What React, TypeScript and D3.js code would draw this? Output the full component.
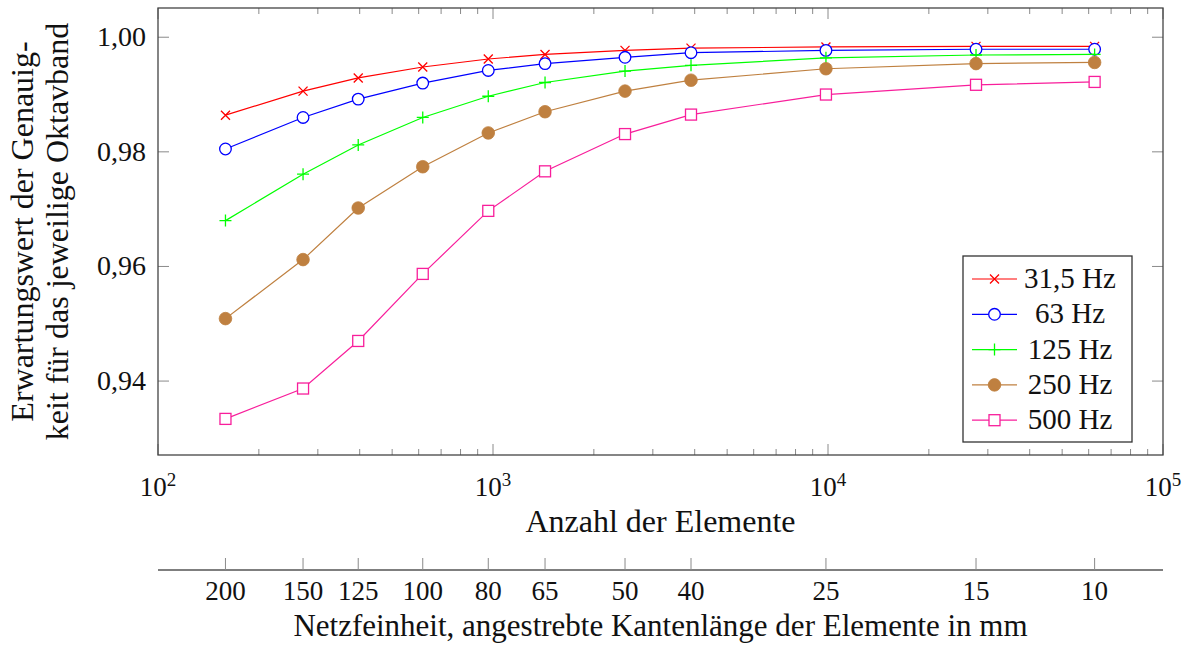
import { useEffect, useRef } from 'react'
import * as d3 from 'd3'

// number of elements (x positions), shared by all series
const elementCounts = [159, 271, 396, 617, 968, 1430, 2478, 3900, 9860, 27660, 62500]
// mesh size labels for the secondary axis (same positions)
const meshSizes = ['200', '150', '125', '100', '80', '65', '50', '40', '25', '15', '10']

const hz31 = [0.9864, 0.9906, 0.9929, 0.9948, 0.9962, 0.997, 0.9977, 0.9981, 0.9983, 0.9984, 0.9984]
const hz63 = [0.9805, 0.986, 0.9892, 0.992, 0.9942, 0.9954, 0.9965, 0.9973, 0.9977, 0.9979, 0.9979]
const hz125 = [0.968, 0.9761, 0.9812, 0.986, 0.9897, 0.9921, 0.9941, 0.9951, 0.9964, 0.9969, 0.997]
const hz250 = [0.9509, 0.9612, 0.9702, 0.9774, 0.9833, 0.987, 0.9906, 0.9925, 0.9945, 0.9954, 0.9956]
const hz500 = [0.9334, 0.9387, 0.947, 0.9587, 0.9697, 0.9766, 0.9831, 0.9865, 0.99, 0.9917, 0.9922]

const seriesNames = ['31,5 Hz', '63 Hz', '125 Hz', '250 Hz', '500 Hz']
const seriesValues = [hz31, hz63, hz125, hz250, hz500]
const seriesColors = ['#ff0000', '#0000ff', '#00ff00', '#bf8040', '#f81e9b']
const seriesMarks = ['x', 'o', '+', '*', 's']

const yTicks = [0.94, 0.96, 0.98, 1.0]
const xDecades = [2, 3, 4, 5]

const FONT = '"Liberation Serif", "DejaVu Serif", serif'

function drawMark(g: any, mark: string, x: number, y: number, color: string) {
    if (mark === 'x') {
        const s = 4.5
        g.append('path')
            .attr('d', `M${x - s},${y - s}L${x + s},${y + s}M${x - s},${y + s}L${x + s},${y - s}`)
            .style('stroke', color).style('stroke-width', 1.3).style('fill', 'none')
    } else if (mark === '+') {
        const s = 6
        g.append('path')
            .attr('d', `M${x - s},${y}L${x + s},${y}M${x},${y - s}L${x},${y + s}`)
            .style('stroke', color).style('stroke-width', 1.3).style('fill', 'none')
    } else if (mark === 'o') {
        g.append('circle').attr('cx', x).attr('cy', y).attr('r', 5.8)
            .style('stroke', color).style('stroke-width', 1.3).style('fill', 'white')
    } else if (mark === '*') {
        g.append('circle').attr('cx', x).attr('cy', y).attr('r', 6.3)
            .style('stroke', color).style('stroke-width', 0.8).style('fill', color)
    } else if (mark === 's') {
        const s = 5.5
        g.append('rect').attr('x', x - s).attr('y', y - s).attr('width', 2 * s).attr('height', 2 * s)
            .style('stroke', color).style('stroke-width', 1.3).style('fill', 'white')
    }
}

function App() {
    const ref = useRef<SVGSVGElement>(null)

    useEffect(() => {
        const left = 158
        const right = 1163
        const top = 8
        const bottom = 455

        const svg = d3.select(ref.current)
        svg.selectAll('*').remove()

        const xScale = d3.scaleLog().domain([100, 100000]).range([left, right])
        const yScale = d3.scaleLinear().domain([0.9271, 1.0051]).range([bottom, top])

        const tickColor = '#8a8a8a'
        const axes = svg.append('g')

        // minor + major ticks on x (top and bottom)
        const minorTicks: number[] = []
        for (let d = 2; d < 5; d++) {
            for (let m = 2; m <= 9; m++) minorTicks.push(m * Math.pow(10, d))
        }
        minorTicks.forEach(v => {
            const x = xScale(v)
            axes.append('line').attr('x1', x).attr('x2', x).attr('y1', bottom).attr('y2', bottom - 6)
                .style('stroke', tickColor).style('stroke-width', 1)
            axes.append('line').attr('x1', x).attr('x2', x).attr('y1', top).attr('y2', top + 6)
                .style('stroke', tickColor).style('stroke-width', 1)
        })
        xDecades.forEach(d => {
            const x = xScale(Math.pow(10, d))
            axes.append('line').attr('x1', x).attr('x2', x).attr('y1', bottom).attr('y2', bottom - 11)
                .style('stroke', tickColor).style('stroke-width', 1)
            axes.append('line').attr('x1', x).attr('x2', x).attr('y1', top).attr('y2', top + 11)
                .style('stroke', tickColor).style('stroke-width', 1)
            const label = axes.append('text')
                .attr('x', x)
                .attr('y', 496)
                .style('text-anchor', 'middle')
                .style('font-family', FONT)
                .style('font-size', '27px')
                .style('fill', '#111')
            label.append('tspan').text('10')
            label.append('tspan').attr('dy', -10).style('font-size', '19px').text(String(d))
        })

        yTicks.forEach(v => {
            const y = yScale(v)
            axes.append('line').attr('x1', left).attr('x2', left + 11).attr('y1', y).attr('y2', y)
                .style('stroke', tickColor).style('stroke-width', 1)
            axes.append('line').attr('x1', right).attr('x2', right - 11).attr('y1', y).attr('y2', y)
                .style('stroke', tickColor).style('stroke-width', 1)
            axes.append('text')
                .attr('x', 146)
                .attr('y', y + 9)
                .style('text-anchor', 'end')
                .style('font-family', FONT)
                .style('font-size', '28px')
                .style('fill', '#111')
                .text(d3.format('.2f')(v).replace('.', ','))
        })

        // frame
        axes.append('rect')
            .attr('x', left).attr('y', top)
            .attr('width', right - left).attr('height', bottom - top)
            .style('fill', 'none').style('stroke', '#444').style('stroke-width', 1.3)

        // series
        const line = d3.line<number>()
            .x((d, i) => xScale(elementCounts[i]))
            .y(d => yScale(d))

        seriesValues.forEach((vals, s) => {
            const g = svg.append('g')
            g.append('path')
                .datum(vals)
                .attr('d', line)
                .style('fill', 'none')
                .style('stroke', seriesColors[s])
                .style('stroke-width', 1.2)
            vals.forEach((v, i) => drawMark(g, seriesMarks[s], xScale(elementCounts[i]), yScale(v), seriesColors[s]))
        })

        // legend
        const legend = svg.append('g')
        legend.append('rect')
            .attr('x', 963).attr('y', 256).attr('width', 169).attr('height', 186)
            .style('fill', 'white').style('stroke', '#333').style('stroke-width', 1.3)
        seriesNames.forEach((name, s) => {
            const y = 279 + s * 35.3
            legend.append('line').attr('x1', 972).attr('x2', 1017).attr('y1', y).attr('y2', y)
                .style('stroke', seriesColors[s]).style('stroke-width', 1.2)
            drawMark(legend, seriesMarks[s], 994.5, y, seriesColors[s])
            legend.append('text')
                .attr('x', 1070)
                .attr('y', y + 9)
                .style('text-anchor', 'middle')
                .style('font-family', FONT)
                .style('font-size', '29px')
                .style('fill', '#111')
                .text(name)
        })

        // axis titles
        svg.append('text')
            .attr('x', (left + right) / 2)
            .attr('y', 532)
            .style('text-anchor', 'middle')
            .style('font-family', FONT)
            .style('font-size', '32px')
            .style('fill', '#111')
            .text('Anzahl der Elemente')

        const yTitle = svg.append('g').attr('transform', `translate(0, ${(top + bottom) / 2}) rotate(-90)`)
        yTitle.append('text')
            .attr('x', 0).attr('y', 33)
            .style('text-anchor', 'middle')
            .style('font-family', FONT)
            .style('font-size', '32px')
            .style('fill', '#111')
            .text('Erwartungswert der Genauig-')
        yTitle.append('text')
            .attr('x', 0).attr('y', 68)
            .style('text-anchor', 'middle')
            .style('font-family', FONT)
            .style('font-size', '32px')
            .style('fill', '#111')
            .text('keit für das jeweilige Oktavband')

        // secondary axis: mesh size
        const axisY = 570
        svg.append('line').attr('x1', left).attr('x2', right).attr('y1', axisY).attr('y2', axisY)
            .style('stroke', '#555').style('stroke-width', 1.5)
        meshSizes.forEach((label, i) => {
            const x = xScale(elementCounts[i])
            svg.append('line').attr('x1', x).attr('x2', x).attr('y1', axisY).attr('y2', axisY - 12)
                .style('stroke', tickColor).style('stroke-width', 1)
            svg.append('text')
                .attr('x', x)
                .attr('y', 600)
                .style('text-anchor', 'middle')
                .style('font-family', FONT)
                .style('font-size', '27px')
                .style('fill', '#111')
                .text(label)
        })
        svg.append('text')
            .attr('x', (left + right) / 2)
            .attr('y', 636)
            .style('text-anchor', 'middle')
            .style('font-family', FONT)
            .style('font-size', '31px')
            .style('fill', '#111')
            .text('Netzfeinheit, angestrebte Kantenlänge der Elemente in mm')
    })

    return (
        <svg ref={ref} width={1190} height={645}
            style={{ position: 'absolute', left: 0, top: 0, background: 'white' }} />
    )
}

export default App
